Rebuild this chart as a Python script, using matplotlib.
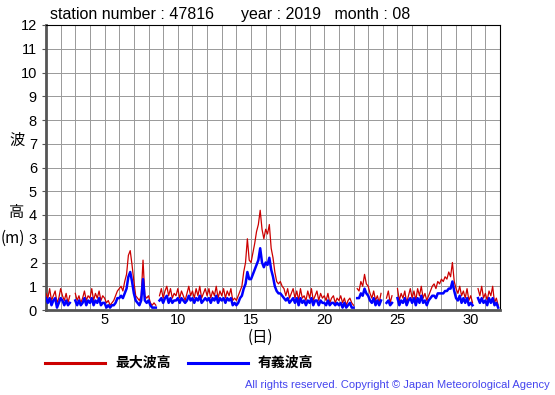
import numpy as np
import matplotlib
matplotlib.use("Agg")
import matplotlib.pyplot as plt
from matplotlib.lines import Line2D

N = np.nan
STEPS_PER_DAY = 8  # 3-hourly readings

# maximum wave height (m), 8 readings per day, days 1..31
max_wave = [
    0.7, 0.5, 0.9, 0.4, 0.6, 0.8, 0.3, 0.5,
    0.9, 0.6, 0.4, 0.7, 0.3, 0.6, N, N,
    0.7, 0.4, 0.6, 0.3, 0.5, 0.8, 0.4, 0.6,
    0.5, 0.9, 0.4, 0.7, 0.5, 0.8, 0.4, 0.6,
    0.5, 0.3, 0.4, 0.2, 0.3, 0.4, 0.6, 0.8,
    0.9, 1.0, 0.8, 1.2, 1.5, 2.3, 2.5, 1.9,
    1.2, 0.6, 0.5, 0.4, 0.6, 2.1, 0.6, 0.5,
    0.6, 0.3, 0.2, 0.3, 0.2, N, 0.6, 0.9,
    0.5, 0.8, 1.0, 0.6, 0.9, 0.5, 0.7, 0.6,
    0.9, 0.5, 0.8, 0.6, 0.4, 0.7, 1.0, 0.6,
    0.8, 0.5, 0.9, 0.6, 1.0, 0.5, 0.7, 0.9,
    0.6, 0.9, 0.5, 0.8, 0.6, 1.0, 0.5, 0.8,
    0.6, 0.9, 0.5, 0.8, 0.6, 0.9, 0.4, 0.5,
    0.4, 0.6, 0.8, 1.0, 1.6, 2.0, 3.0, 2.1,
    2.0, 2.4, 2.8, 3.3, 3.6, 4.2, 3.4, 3.0,
    3.4, 3.2, 3.6, 2.6, 2.2, 1.6, 1.2, 1.1,
    1.2, 1.0, 0.9, 0.6, 0.9, 0.5, 0.7, 0.9,
    0.5, 0.8, 0.4, 0.9, 0.5, 0.6, 0.4, 0.8,
    0.5, 0.9, 0.4, 0.6, 0.8, 0.4, 0.7, 0.5,
    0.6, 0.4, 0.7, 0.3, 0.5, 0.6, 0.3, 0.5,
    0.4, 0.6, 0.3, 0.5, 0.2, 0.4, 0.5, 0.3,
    0.2, N, 0.9, 0.8, 1.2, 1.0, 1.5, 1.1,
    1.0, 0.7, 0.5, 0.8, 0.4, 0.6, 0.3, 0.7,
    N, N, 0.5, 0.8, 0.3, 0.6, N, N,
    0.9, 0.4, 0.7, 0.5, 0.8, 0.3, 0.6, 0.9,
    0.5, 0.8, 0.4, 0.9, 0.6, 1.0, 0.5, 0.7,
    0.4, 0.6, 0.8, 1.0, 1.1, 0.9, 1.2, 1.1,
    1.3, 1.2, 1.4, 1.3, 1.6, 1.4, 2.0, 1.2,
    0.9, 0.7, 1.0, 0.6, 0.8, 0.5, 0.9, 0.4,
    0.6, 0.3, N, N, 0.9, 0.6, 1.0, 0.5,
    0.7, 0.4, 0.8, 0.6, 1.0, 0.3, 0.5, 0.2,
]

# significant wave height (m)
sig_wave = [
    0.5, 0.3, 0.5, 0.2, 0.4, 0.5, 0.1, 0.3,
    0.5, 0.4, 0.2, 0.4, 0.2, 0.3, N, N,
    0.4, 0.2, 0.4, 0.2, 0.3, 0.5, 0.2, 0.4,
    0.3, 0.5, 0.2, 0.4, 0.3, 0.5, 0.2, 0.3,
    0.3, 0.1, 0.2, 0.1, 0.2, 0.2, 0.3, 0.5,
    0.5, 0.6, 0.5, 0.7, 0.9, 1.4, 1.6, 1.2,
    0.7, 0.4, 0.3, 0.2, 0.4, 1.3, 0.4, 0.3,
    0.4, 0.2, 0.1, 0.1, 0.1, N, 0.4, 0.5,
    0.3, 0.5, 0.6, 0.3, 0.5, 0.3, 0.4, 0.4,
    0.5, 0.3, 0.5, 0.4, 0.3, 0.4, 0.6, 0.4,
    0.5, 0.3, 0.5, 0.4, 0.6, 0.3, 0.4, 0.5,
    0.4, 0.5, 0.3, 0.5, 0.4, 0.6, 0.3, 0.5,
    0.4, 0.5, 0.3, 0.5, 0.4, 0.5, 0.2, 0.3,
    0.2, 0.3, 0.5, 0.6, 0.9, 1.1, 1.6, 1.3,
    1.3, 1.5, 1.7, 1.9, 2.1, 2.6, 2.0, 1.8,
    2.0, 1.9, 2.2, 1.7, 1.4, 1.0, 0.8, 0.7,
    0.7, 0.6, 0.5, 0.4, 0.5, 0.3, 0.4, 0.5,
    0.3, 0.5, 0.2, 0.5, 0.3, 0.4, 0.2, 0.4,
    0.3, 0.5, 0.2, 0.4, 0.4, 0.2, 0.4, 0.3,
    0.3, 0.2, 0.4, 0.2, 0.3, 0.3, 0.2, 0.3,
    0.2, 0.3, 0.1, 0.3, 0.1, 0.2, 0.3, 0.1,
    0.1, N, 0.5, 0.5, 0.7, 0.6, 0.9, 0.7,
    0.6, 0.4, 0.3, 0.5, 0.2, 0.4, 0.2, 0.4,
    N, N, 0.3, 0.4, 0.2, 0.3, N, N,
    0.5, 0.2, 0.4, 0.3, 0.5, 0.2, 0.4, 0.5,
    0.3, 0.5, 0.2, 0.5, 0.3, 0.6, 0.3, 0.4,
    0.2, 0.4, 0.5, 0.6, 0.6, 0.5, 0.7, 0.7,
    0.7, 0.7, 0.8, 0.8, 0.9, 0.9, 1.2, 0.8,
    0.5, 0.4, 0.6, 0.3, 0.5, 0.3, 0.5, 0.2,
    0.3, 0.2, N, N, 0.5, 0.3, 0.5, 0.3,
    0.4, 0.2, 0.5, 0.3, 0.5, 0.2, 0.3, 0.1,
]

x_ticks = [5, 10, 15, 20, 25, 30]
y_ticks = list(range(0, 13))
title_text = "station number : 47816      year : 2019   month : 08"
legend_labels = ["最大波高", "有義波高"]

days = 1 + np.arange(len(max_wave)) / STEPS_PER_DAY

plt.rcParams['font.family'] = ['Liberation Sans', 'DejaVu Sans']
JP = ['Noto Sans CJK JP', 'DejaVu Sans']

fig = plt.figure(figsize=(5.55, 3.95), dpi=100)
ax = fig.add_axes([46/555, 85/395, 454/555, 285/395])

ax.plot(days, max_wave, color='#cc0000', lw=0.9, zorder=3)
ax.plot(days, sig_wave, color='#0000ff', lw=1.8, zorder=4)

ax.set_xlim(1, 32)
ax.set_ylim(0, 12)
ax.set_xticks(x_ticks)
ax.set_xticks(np.arange(1, 33), minor=True)
ax.set_yticks(y_ticks)
ax.grid(True, which='both', color='#999999', lw=0.7)
ax.tick_params(axis='both', which='major', labelsize=10.5, length=3, width=0.8, color='#555555')
ax.tick_params(axis='x', which='minor', length=0)
ax.tick_params(axis='x', which='major', length=0, pad=2)
for s in ['left', 'bottom']:
    ax.spines[s].set_color('#555555')
    ax.spines[s].set_linewidth(2)
for s in ['top', 'right']:
    ax.spines[s].set_color('black')
    ax.spines[s].set_linewidth(0.8)

fig.text(50/555, 1 - 15/395, title_text, fontsize=11.5, va='center', ha='left')

fig.text(17/555, 1 - 140/395, "波", family=JP, fontsize=11, ha='center', va='center')
fig.text(17/555, 1 - 213/395, "高", family=JP, fontsize=11, ha='center', va='center')
fig.text(13/555, 1 - 238/395, "(m)", family=JP, fontsize=11, ha='center', va='center')
fig.text(260/555, 1 - 337/395, "(日)", family=JP, fontsize=11, ha='center', va='center')

fig.add_artist(Line2D([45/555, 105/555], [1 - 363/395]*2, color='#cc0000', lw=2.2))
fig.text(115/555, 1 - 363/395, legend_labels[0], family=JP, fontsize=10, fontweight='bold', va='center')
fig.add_artist(Line2D([188/555, 248/555], [1 - 363/395]*2, color='#0000ff', lw=2.2))
fig.text(258/555, 1 - 363/395, legend_labels[1], family=JP, fontsize=10, fontweight='bold', va='center')

fig.text(550/555, 1 - 385/395, "All rights reserved. Copyright © Japan Meteorological Agency",
         fontsize=8, color='#4444ee', ha='right', va='center')

fig.savefig("out.png", dpi=100)
